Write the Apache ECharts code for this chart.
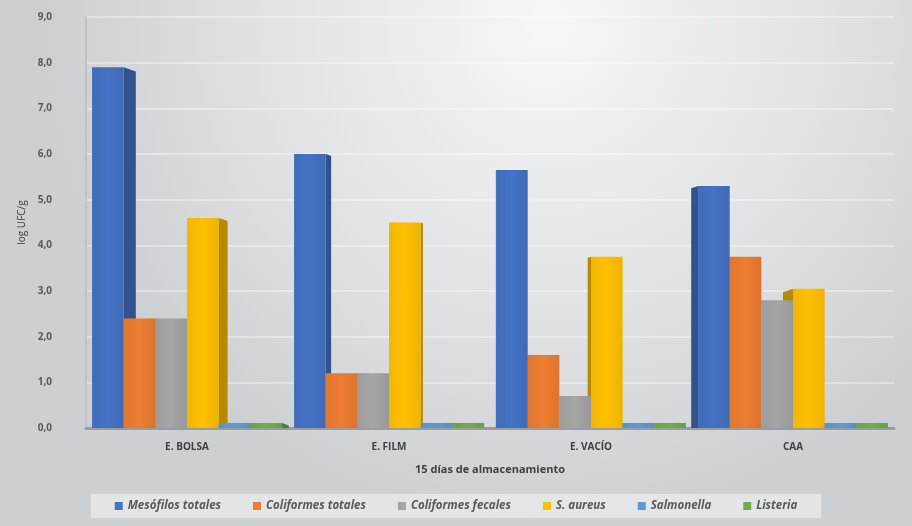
<!DOCTYPE html>
<html>
<head>
<meta charset="utf-8">
<script src="https://cdn.jsdelivr.net/npm/echarts@6/dist/echarts.min.js"></script>
<style>
html, body { margin: 0; padding: 0; }
#main { width: 912px; height: 526px; }
</style>
</head>
<body>
<div id="main"></div>
<script>
var categorias = ['E. BOLSA', 'E. FILM', 'E. VACÍO', 'CAA'];
var nombres = ['Mesófilos totales', 'Coliformes totales', 'Coliformes fecales', 'S. aureus', 'Salmonella', 'Listeria'];
var colores = ['#4472C4', '#ED7D31', '#A5A5A5', '#FFC000', '#5B9BD5', '#70AD47'];

// log UFC/g a los 15 dias
var mesofilos = [7.9, 6.0, 5.65, 5.3];
var colTotales = [2.4, 1.2, 1.6, 3.75];
var colFecales = [2.4, 1.2, 0.7, 2.8];
var sAureus = [4.6, 4.5, 3.75, 3.05];
var salmonella = [0, 0, 0, 0];
var listeria = [0, 0, 0, 0];

var valores = [mesofilos, colTotales, colFecales, sAureus, salmonella, listeria];
var yTicks = [0, 1, 2, 3, 4, 5, 6, 7, 8, 9];

var myChart = echarts.init(document.getElementById('main'));

function oscurecer(hex, f) {
    var c = echarts.color.parse(hex);
    return 'rgb(' + Math.round(c[0] * f) + ',' + Math.round(c[1] * f) + ',' + Math.round(c[2] * f) + ')';
}

// barra con cara lateral (efecto 3D tipo Excel)
function barra3d(idx) {
    return function (params, api) {
        var cat = api.value(0);
        var val = api.value(1);
        var base = api.coord([cat, 0]);
        var top = api.coord([cat, val]);
        var band = api.size([1, 0])[0];
        var groupW = band * 0.94;
        var w = groupW / 6;
        var x0 = base[0] - groupW / 2 + idx * w;
        var yb = base[1];
        var yt = Math.min(top[1], yb - 5);
        var c = colores[idx];
        var lado = oscurecer(c, 0.72);
        var camX = 490;
        var xa = (x0 + w < camX) ? x0 + w : x0;
        var d = (camX - xa) * 0.033;
        var dy = Math.abs(d) * 0.35;
        return {
            type: 'group',
            children: [{
                type: 'polygon',
                z2: 1,
                shape: { points: [[xa, yt], [xa + d, yt + dy], [xa + d, yb], [xa, yb]] },
                style: { fill: lado }
            }, {
                type: 'rect',
                z2: 10,
                shape: { x: x0, y: yt, width: w, height: yb - yt },
                style: {
                    fill: new echarts.graphic.LinearGradient(0, 0, 1, 0, [
                        { offset: 0, color: oscurecer(c, 0.95) },
                        { offset: 0.5, color: c },
                        { offset: 1, color: oscurecer(c, 0.93) }
                    ])
                }
            }]
        };
    };
}

var series = [];
for (var i = 0; i < nombres.length; i++) {
    series.push({
        name: nombres[i],
        type: 'custom',
        z: 2,
        renderItem: barra3d(i),
        itemStyle: { color: colores[i] },
        encode: { x: 0, y: 1 },
        data: valores[i].map(function (v, j) { return [j, v]; })
    });
}

var option = {
    backgroundColor: new echarts.graphic.RadialGradient(0.6, 0.05, 0.95, [
        { offset: 0, color: '#f7f7f7' },
        { offset: 0.5, color: '#e4e5e7' },
        { offset: 1, color: '#cdd0d3' }
    ]),
    textStyle: { fontFamily: 'Open Sans' },
    grid: { left: 86, right: 18, top: 17, bottom: 98 },
    legend: {
        bottom: 8,
        left: 'center',
        data: nombres.map(function (n) { return { name: n, icon: 'rect' }; }),
        itemWidth: 8,
        itemHeight: 8,
        itemGap: 32,
        padding: [6, 24],
        backgroundColor: 'rgba(255,255,255,0.45)',
        textStyle: { color: '#595959', fontSize: 11.5, fontStyle: 'italic', fontWeight: 'bold' }
    },
    xAxis: {
        type: 'category',
        data: categorias,
        name: '15 días de almacenamiento',
        nameLocation: 'middle',
        nameGap: 36,
        nameTextStyle: { color: '#404040', fontSize: 11, fontWeight: 'bold' },
        axisLine: { lineStyle: { color: '#9a9c9f', width: 3 } },
        axisTick: { show: false },
        axisLabel: { color: '#404040', fontSize: 10, fontWeight: 'bold', margin: 14 }
    },
    yAxis: {
        type: 'value',
        min: yTicks[0],
        max: yTicks[yTicks.length - 1],
        interval: 1,
        name: 'log UFC/g',
        nameLocation: 'middle',
        nameGap: 58,
        nameTextStyle: { color: '#404040', fontSize: 10 },
        axisLine: { show: true, lineStyle: { color: '#bfc1c4', width: 2 } },
        axisTick: { show: false },
        splitLine: { lineStyle: { color: 'rgba(255,255,255,0.35)', width: 2 } },
        axisLabel: {
            color: '#595959',
            fontSize: 10,
            fontWeight: 'bold',
            margin: 34,
            formatter: function (v) { return v.toFixed(1).replace('.', ','); }
        }
    },
    series: series
};

myChart.setOption(option);
</script>
</body>
</html>
